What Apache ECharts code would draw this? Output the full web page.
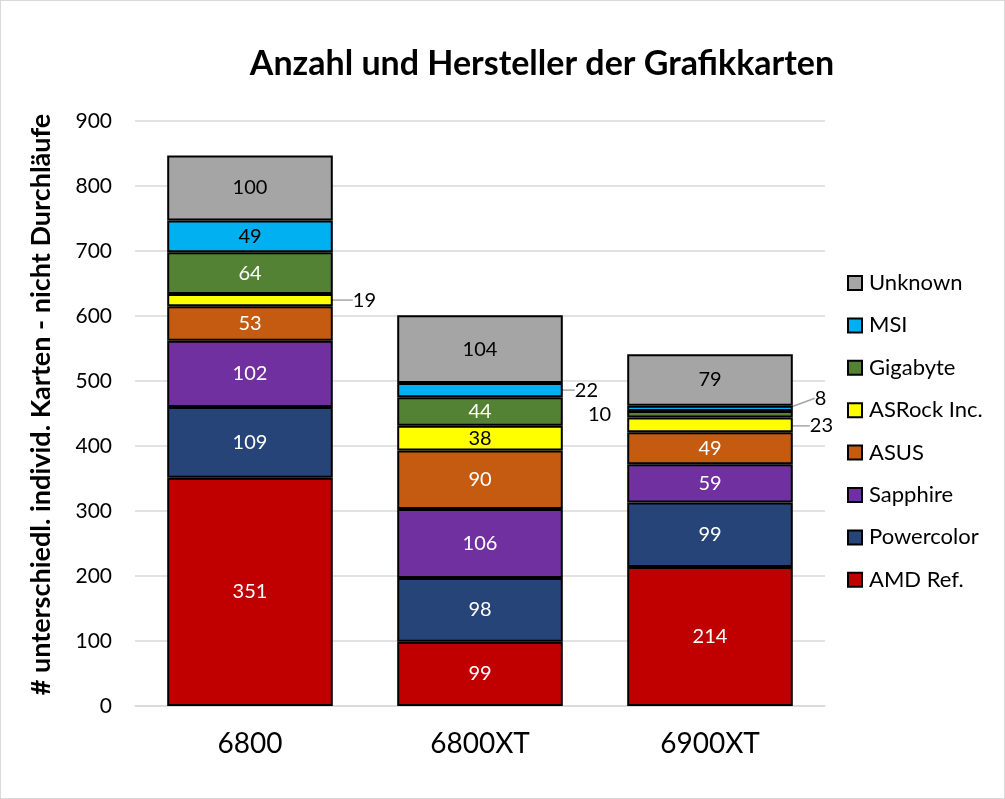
<!DOCTYPE html>
<html><head><meta charset="utf-8">
<script src="https://cdn.jsdelivr.net/npm/echarts@6/dist/echarts.min.js"></script>
<style>html,body{margin:0;padding:0;background:#fff}#c{width:1005px;height:799px;box-sizing:border-box;border:1px solid #d9d9d9}</style>
</head><body><div id="c"></div>
<script>
const categories = ['6800', '6800XT', '6900XT'];
const amdRef = [351, 99, 214];
const powercolor = [109, 98, 99];
const sapphire = [102, 106, 59];
const asus = [53, 90, 49];
const asrock = [19, 38, 23];
const gigabyte = [64, 44, 10];
const msi = [49, 22, 8];
const unknown = [100, 104, 79];
const yTicks = [0, 100, 200, 300, 400, 500, 600, 700, 800, 900];

const FONT = 'Lato';
const seriesDefs = [
  {name: 'AMD Ref.', data: amdRef, color: '#c00000', text: '#fff'},
  {name: 'Powercolor', data: powercolor, color: '#264478', text: '#fff'},
  {name: 'Sapphire', data: sapphire, color: '#7030a0', text: '#fff'},
  {name: 'ASUS', data: asus, color: '#c55a11', text: '#fff'},
  {name: 'ASRock Inc.', data: asrock, color: '#ffff00', text: '#000'},
  {name: 'Gigabyte', data: gigabyte, color: '#548235', text: '#fff'},
  {name: 'MSI', data: msi, color: '#00b0f0', text: '#000'},
  {name: 'Unknown', data: unknown, color: '#a5a5a5', text: '#000'}
];
const outside = {
  'ASRock Inc.|0': {dx: 18, dy: 0},
  'MSI|1': {dx: 10, dy: 0},
  'MSI|2': {dx: 20, dy: -10},
  'ASRock Inc.|2': {dx: 15, dy: 1},
  'Gigabyte|2': {left: true}
};

const chart = echarts.init(document.getElementById('c'), null, {renderer: 'canvas'});
const series = seriesDefs.map(s => ({
  name: s.name,
  type: 'bar',
  stack: 'total',
  barWidth: '72%',
  itemStyle: {color: s.color, borderColor: '#000', borderWidth: 2},
  label: {show: true, position: 'inside', color: s.text, fontFamily: FONT, fontSize: 20},
  labelLine: {show: false, lineStyle: {color: '#a6a6a6', width: 1.5}},
  labelLayout: function (p) {
    const o = outside[s.name + '|' + p.dataIndex];
    if (o && !o.left) return {dx: o.dx, dy: o.dy};
    return {};
  },
  data: s.data.map((v, i) => {
    const o = outside[s.name + '|' + i];
    if (!o) return v;
    if (o.left) return {value: v, label: {position: 'left', distance: 16, color: '#000'}};
    return {value: v, label: {position: 'right', distance: 2, color: '#000'}, labelLine: {show: true}};
  })
}));

chart.setOption({
  animation: false,
  title: {
    text: 'Anzahl und Hersteller der Grafikkarten',
    left: 536, top: 41, textAlign: 'center',
    textStyle: {fontFamily: FONT, fontWeight: 'bold', fontSize: 34, color: '#000'}
  },
  legend: {
    orient: 'vertical', left: 841, top: 266,
    data: seriesDefs.map(s => s.name).reverse(),
    itemWidth: 14, itemHeight: 14, itemGap: 20.4,
    icon: 'rect',
    textStyle: {fontFamily: FONT, fontSize: 22, color: '#000', padding: [0, 0, 0, 2]}
  },
  grid: {left: 134, right: 179, top: 120, bottom: 92},
  xAxis: {
    type: 'category', data: categories,
    axisLine: {lineStyle: {color: '#d9d9d9', width: 1.5}},
    axisTick: {show: false},
    axisLabel: {fontFamily: FONT, fontSize: 28, color: '#000', margin: 24}
  },
  yAxis: {
    type: 'value', min: 0, max: 900, interval: 100,
    name: '# unterschiedl. individ. Karten - nicht Durchläufe',
    nameLocation: 'middle', nameGap: 80,
    nameTextStyle: {fontFamily: FONT, fontWeight: 'bold', fontSize: 27, color: '#000', padding: [0, 0, 0, 18]},
    axisLabel: {fontFamily: FONT, fontSize: 21, color: '#000', margin: 23,
      formatter: v => yTicks.includes(v) ? String(v) : ''},
    splitLine: {lineStyle: {color: '#d9d9d9', width: 1.5}},
    axisLine: {show: false}, axisTick: {show: false}
  },
  series: series
});
</script></body></html>
